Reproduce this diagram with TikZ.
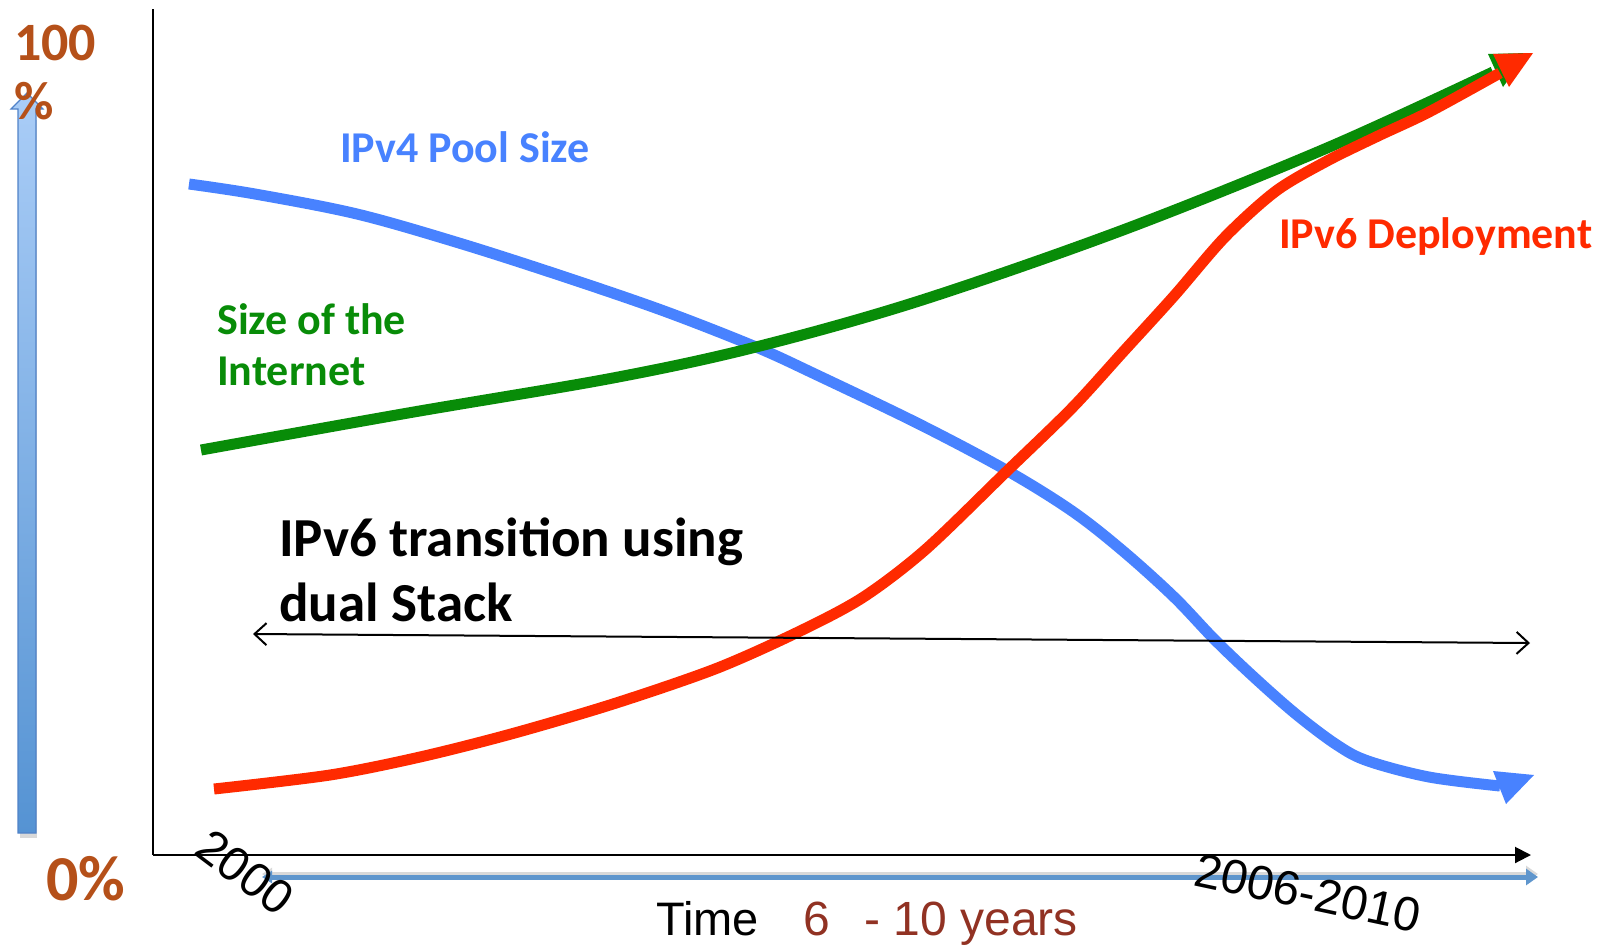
\documentclass[tikz,border=0pt]{standalone}
\usepackage{fontspec}
\setmainfont{Carlito}
\newfontfamily\arialf{Liberation Sans}
\usetikzlibrary{arrows.meta}
\definecolor{pctbrown}{RGB}{181,80,25}
\definecolor{ipvblue}{RGB}{72,130,255}
\definecolor{netgreen}{RGB}{8,140,8}
\definecolor{depred}{RGB}{255,42,0}
\definecolor{yearred}{RGB}{145,50,35}
\definecolor{timeblue}{RGB}{95,150,205}
\definecolor{arrtop}{RGB}{170,205,247}
\definecolor{arrbot}{RGB}{85,147,211}
\definecolor{arredge}{RGB}{80,130,200}
\tikzset{
  curve/.style={line width=11pt, line join=round},
  lbl/.style={inner sep=0pt, anchor=base west, font=\bfseries\fontsize{44}{51}\selectfont},
  yearlbl/.style={inner sep=0pt, font=\arialf\fontsize{48}{50}\selectfont},
  timelbl/.style={inner sep=0pt, anchor=base west, font=\arialf\fontsize{47}{50}\selectfont},
  pct/.style={inner sep=0pt, anchor=base west, text=pctbrown, font=\bfseries\fontsize{54}{60}\selectfont},
}
\begin{document}
\begin{tikzpicture}[x=1pt,y=-1pt]
\useasboundingbox (0,0) rectangle (1601,946);
% axes
\coordinate (ytop) at (153,9);
\coordinate (orig) at (153,855);
\coordinate (xend) at (1531,855);
\draw[line width=2pt] (ytop) -- (orig);
\draw[line width=2pt, -{Triangle[length=16pt,width=16pt]}] (orig) -- (xend);
% time arrow
\coordinate (tl) at (262,877);
\coordinate (tr) at (1538,877);
\draw[line width=5pt, black!15, {Triangle[length=10pt,width=12pt]}-{Triangle[length=12pt,width=16pt]}] ([yshift=3pt]tl) -- ([yshift=3pt]tr);
\draw[line width=5pt, timeblue, {Triangle[length=10pt,width=12pt]}-{Triangle[length=12pt,width=16pt]}] (tl) -- (tr);
% vertical gradient arrow
\fill[black!15] (20,120) rectangle (37,838);
\shade[top color=arrtop, bottom color=arrbot, draw=arredge, line width=1.2pt]
  (18,833) -- (18,109) -- (11,109) -- (27,93) -- (43,109) -- (36,109) -- (36,833) -- cycle;
% percentages
\node[pct] (p100) at (14,60) {100};
\node[pct] (ppct) at (14,119) {\%};
\node[pct, font=\bfseries\fontsize{64}{66}\selectfont] (p0) at (46,900) {0\%};
% blue curve
\draw[curve, ipvblue] plot[smooth, tension=0.55] coordinates {
 (189,184) (255,194) (357,214) (459,243) (562,276) (664,311) (756,347) (817,375)
 (919,424) (1006,470) (1072,511) (1123,551) (1174,597) (1215,640) (1256,679)
 (1297,715) (1337,745) (1368,761) (1429,777) (1500,786)};
\fill[ipvblue] (1534,775) -- (1493,771) -- (1506,804) -- cycle;
% green curve
\draw[curve, netgreen] plot[smooth, tension=0.55] coordinates {
 (201,450) (408,413) (613,378) (756,347) (919,301) (1123,230) (1327,148) (1493,72)};
\fill[netgreen] (1528,53) -- (1488,54) -- (1503,87) -- cycle;
% red curve
\draw[curve, depred] plot[smooth, tension=0.5] coordinates {
 (214,789) (330,775) (420,757) (511,734) (613,704) (715,669) (796,633) (862,598)
 (925,550) (1006,472) (1072,408) (1123,352) (1174,296) (1225,237) (1276,191) (1327,161)
 (1378,136) (1429,112) (1500,73)};
\fill[depred] (1533,53) -- (1493,54) -- (1509,87) -- cycle;
% transition arrow
\coordinate (dl) at (253,634);
\coordinate (dr) at (1530,643);
\draw[line width=2pt, {Straight Barb[length=12pt,width=22pt]}-{Straight Barb[length=12pt,width=22pt]}] (dl) -- (dr);
% labels
\node[lbl, text=ipvblue] (l4) at (340,162) {IPv4 Pool Size};
\node[lbl, text=netgreen, align=left] (lnet) at (217,385) {Size of the\\Internet};
\node[lbl, text=depred] (l6) at (1279,248) {IPv6 Deployment};
\node[lbl, text=black, align=left, font=\bfseries\fontsize{55}{65}\selectfont] (ltr) at (279,621) {IPv6 transition using\\dual Stack};
% time labels
\node[timelbl] (time) at (656,935) {Time};
\node[timelbl, text=yearred, font=\arialf\fontsize{48}{50}\selectfont] (yrs) at (803,935) {6 \ \,- 10 years};
\node[yearlbl, rotate=-37] (y2000) at (245,872) {2000};
\node[yearlbl, rotate=-12] (y2006) at (1308,893) {2006-2010};
\end{tikzpicture}
\end{document}
